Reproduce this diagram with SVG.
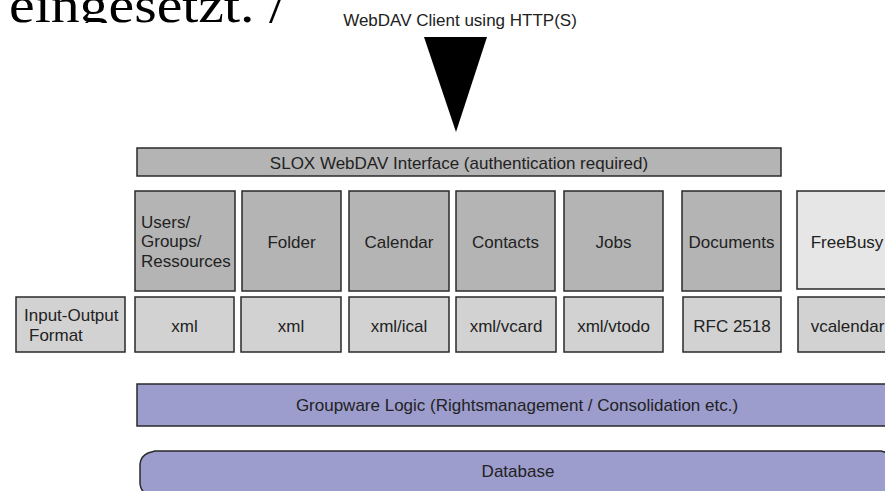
<svg xmlns="http://www.w3.org/2000/svg" width="885" height="491" viewBox="0 0 885 491">
<defs>
<style>
text{font-family:"Liberation Sans",Arial,sans-serif;font-size:17px;fill:#222}
.c{text-anchor:middle}
.mod rect{fill:#b4b4b4;stroke:#2a2a2a;stroke-width:1.5}
.fmt rect{fill:#d2d2d2;stroke:#2a2a2a;stroke-width:1.5}
.light rect{fill:#e6e6e6}
.bar{fill:#b4b4b4;stroke:#2a2a2a;stroke-width:1.5}
.pur{fill:#9c9ccd;stroke:#2a2a2a;stroke-width:1.5}
.big{font-family:"Liberation Serif","Times New Roman",serif;font-size:50px;fill:#000}
</style>
<clipPath id="topclip"><rect x="0" y="0" width="885" height="23"/></clipPath>
</defs>
<rect width="885" height="491" fill="#fff"/>
<g clip-path="url(#topclip)"><text class="big" x="9" y="22" textLength="276" lengthAdjust="spacingAndGlyphs">eingesetzt. /</text></g>

<g id="client">
<text class="c" x="460" y="26">WebDAV Client using HTTP(S)</text>
<polygon points="424,37 487,37 456,132" fill="#000"/>
</g>

<g id="slox">
<rect class="bar" x="137" y="148" width="644" height="28"/>
<text class="c" x="459" y="169">SLOX WebDAV Interface (authentication required)</text>
</g>

<g id="users" class="mod"><rect x="135" y="191" width="100" height="100"/>
<text x="141" y="228">Users/</text><text x="141" y="247">Groups/</text><text x="141" y="267">Ressources</text></g>
<g id="folder" class="mod"><rect x="242" y="191" width="99" height="100"/><text class="c" x="291.5" y="248">Folder</text></g>
<g id="calendar" class="mod"><rect x="349" y="191" width="100" height="100"/><text class="c" x="399" y="248">Calendar</text></g>
<g id="contacts" class="mod"><rect x="456" y="191" width="99" height="100"/><text class="c" x="505.5" y="248">Contacts</text></g>
<g id="jobs" class="mod"><rect x="564" y="191" width="99" height="100"/><text class="c" x="613.5" y="248">Jobs</text></g>
<g id="documents" class="mod"><rect x="682" y="191" width="99" height="100"/><text class="c" x="731.5" y="248">Documents</text></g>
<g id="freebusy" class="mod light"><rect x="797" y="191" width="99" height="98"/><text class="c" x="847" y="248">FreeBusy</text></g>

<g id="ioformat" class="fmt"><rect x="16" y="297" width="109" height="55"/>
<text x="24" y="321">Input-Output</text><text x="29" y="341">Format</text></g>
<g id="fmt-users" class="fmt"><rect x="135" y="297" width="99" height="55"/><text class="c" x="184.5" y="332">xml</text></g>
<g id="fmt-folder" class="fmt"><rect x="241" y="297" width="100" height="55"/><text class="c" x="291" y="332">xml</text></g>
<g id="fmt-calendar" class="fmt"><rect x="349" y="297" width="100" height="55"/><text class="c" x="399" y="332">xml/ical</text></g>
<g id="fmt-contacts" class="fmt"><rect x="456" y="297" width="100" height="55"/><text class="c" x="506" y="332">xml/vcard</text></g>
<g id="fmt-jobs" class="fmt"><rect x="564" y="297" width="99" height="55"/><text class="c" x="613.5" y="332">xml/vtodo</text></g>
<g id="fmt-documents" class="fmt"><rect x="683" y="297" width="98" height="55"/><text class="c" x="732" y="332">RFC 2518</text></g>
<g id="fmt-freebusy" class="fmt"><rect x="798" y="297" width="99" height="55"/><text class="c" x="847.5" y="332">vcalendar</text></g>

<g id="groupware">
<rect class="pur" x="137" y="384" width="760" height="42"/>
<text class="c" x="517" y="411">Groupware Logic (Rightsmanagement / Consolidation etc.)</text>
</g>

<g id="database">
<path class="pur" d="M155,451 L881,451 L888,453 Q895,456 896,464 L896,484 Q895,492 888,495 L148,495 Q141,492 140,484 L140,464 Q141,456 148,453 Z"/>
<text class="c" x="518" y="477">Database</text>
</g>

<g id="connectors"></g>
</svg>
